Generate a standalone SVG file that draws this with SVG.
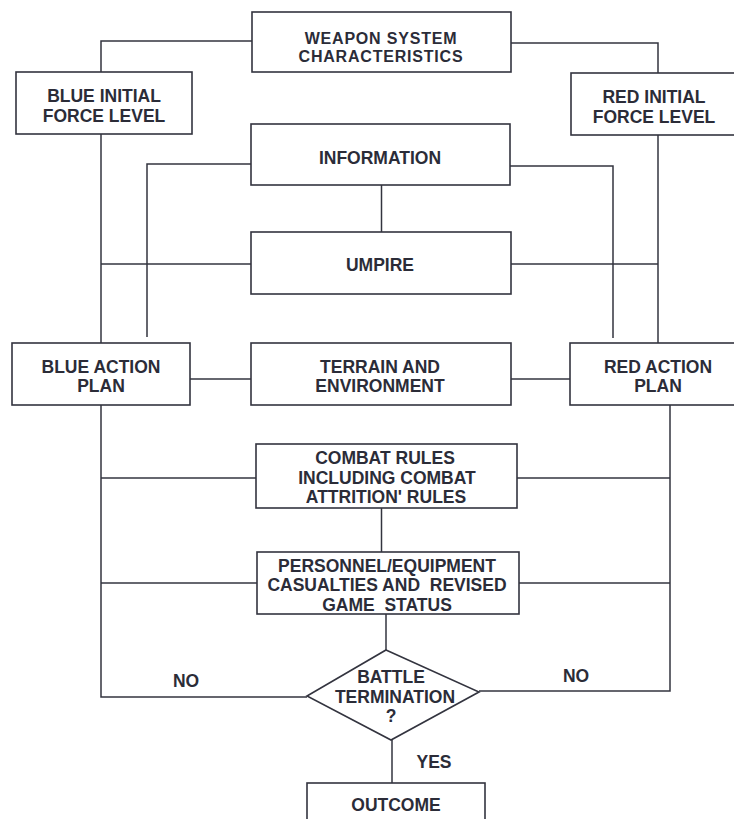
<svg xmlns="http://www.w3.org/2000/svg" width="734" height="819" viewBox="0 0 734 819">
<style>
.box{fill:#fff;stroke:#33343f;stroke-width:1.6}
.ln{fill:none;stroke:#33343f;stroke-width:1.5}
text{font-family:"Liberation Sans",Arial,sans-serif;font-weight:bold;font-size:17.5px;fill:#2b2c38;text-anchor:middle}
.tight{font-size:16px;letter-spacing:0.8px}
</style>
<rect width="734" height="819" fill="#fff"/>
<g id="connectors">
<polyline class="ln" points="252,41 101,41 101,72"/>
<polyline class="ln" points="511,43 658,43 658,73"/>
<line class="ln" x1="101" y1="134" x2="101" y2="343"/>
<line class="ln" x1="658" y1="135" x2="658" y2="343"/>
<polyline class="ln" points="251,164 147,164 147,337"/>
<polyline class="ln" points="510,166 613,166 613,338"/>
<line class="ln" x1="381.5" y1="185" x2="381.5" y2="232"/>
<line class="ln" x1="101" y1="264" x2="251" y2="264"/>
<line class="ln" x1="511" y1="264" x2="658" y2="264"/>
<line class="ln" x1="190" y1="379" x2="251" y2="379"/>
<line class="ln" x1="511" y1="379" x2="570" y2="379"/>
<polyline class="ln" points="101,405 101,697 307,697"/>
<polyline class="ln" points="670,405 670,691 479,691"/>
<line class="ln" x1="101" y1="478" x2="256" y2="478"/>
<line class="ln" x1="517" y1="478" x2="670" y2="478"/>
<line class="ln" x1="381.5" y1="508" x2="381.5" y2="552"/>
<line class="ln" x1="101" y1="583" x2="257" y2="583"/>
<line class="ln" x1="519" y1="583" x2="670" y2="583"/>
<line class="ln" x1="386" y1="614" x2="386" y2="650"/>
<line class="ln" x1="392" y1="740" x2="392" y2="783"/>
<text x="186" y="687">NO</text>
<text x="576" y="682">NO</text>
<text x="434" y="768">YES</text>
</g>
<g id="weapon">
<rect class="box" x="252" y="12" width="259" height="60"/>
<text class="tight" x="381" y="44">WEAPON SYSTEM</text>
<text class="tight" x="381" y="62">CHARACTERISTICS</text>
</g>
<g id="blue-initial">
<rect class="box" x="16" y="72" width="176" height="62"/>
<text x="104" y="102">BLUE INITIAL</text>
<text x="104" y="122">FORCE LEVEL</text>
</g>
<g id="red-initial">
<rect class="box" x="571" y="73" width="180" height="62"/>
<text x="654" y="103">RED INITIAL</text>
<text x="654" y="123">FORCE LEVEL</text>
</g>
<g id="information">
<rect class="box" x="251" y="124" width="259" height="61"/>
<text x="380" y="164">INFORMATION</text>
</g>
<g id="umpire">
<rect class="box" x="251" y="232" width="260" height="62"/>
<text x="380" y="271">UMPIRE</text>
</g>
<g id="blue-action">
<rect class="box" x="12" y="343" width="178" height="62"/>
<text x="101" y="373">BLUE ACTION</text>
<text x="101" y="392">PLAN</text>
</g>
<g id="terrain">
<rect class="box" x="251" y="343" width="260" height="62"/>
<text x="380" y="373">TERRAIN AND</text>
<text x="380" y="392">ENVIRONMENT</text>
</g>
<g id="red-action">
<rect class="box" x="570" y="343" width="180" height="62"/>
<text x="658" y="373">RED ACTION</text>
<text x="658" y="392">PLAN</text>
</g>
<g id="combat">
<rect class="box" x="256" y="444" width="261" height="64"/>
<text x="385" y="464">COMBAT RULES</text>
<text x="387" y="484">INCLUDING COMBAT</text>
<text x="386" y="503">ATTRITION' RULES</text>
</g>
<g id="personnel">
<rect class="box" x="257" y="552" width="262" height="62"/>
<text x="387" y="572">PERSONNEL/EQUIPMENT</text>
<text x="387" y="591" xml:space="preserve">CASUALTIES AND  REVISED</text>
<text x="387" y="611" xml:space="preserve">GAME  STATUS</text>
</g>
<g id="battle-termination">
<polygon class="box" points="386,650 479,692 391,740 307,696"/>
<text x="391" y="683">BATTLE</text>
<text x="395" y="703">TERMINATION</text>
<text x="391" y="722">?</text>
</g>
<g id="outcome">
<rect class="box" x="307" y="783" width="178" height="50"/>
<text x="396" y="811">OUTCOME</text>
</g>
</svg>
